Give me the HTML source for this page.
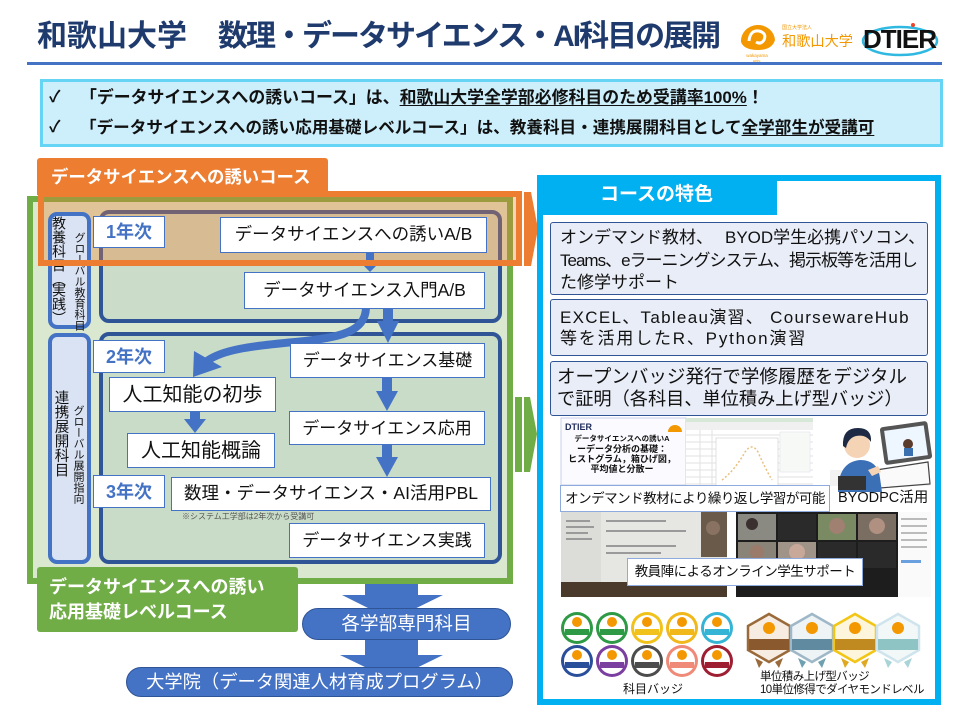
<!DOCTYPE html>
<html><head><meta charset="utf-8">
<style>
*{margin:0;padding:0;box-sizing:border-box}
html,body{width:960px;height:720px;overflow:hidden;background:#fff}
body{position:relative;font-family:"Liberation Sans","Noto Sans CJK JP",sans-serif;color:#111}
.a{position:absolute;white-space:nowrap}
.cb{position:absolute;background:#fff;border:1px solid #4472c4;display:flex;align-items:center;justify-content:center;white-space:nowrap;color:#111;line-height:1}
.yr{position:absolute;background:#fff;border:1px solid #4472c4;display:flex;align-items:center;justify-content:center;color:#4472c4;font-weight:bold;font-size:18px;line-height:1;width:72px}
.vt{position:absolute;writing-mode:vertical-rl;line-height:1;white-space:nowrap;color:#111}
.fb{position:absolute;left:550px;width:378px;background:#e9edf7;border:1px solid #2f5597;border-radius:3px}
.ft{position:absolute;left:560px;font-size:17px;white-space:nowrap;color:#111;line-height:1}
.u{text-decoration:underline;text-underline-offset:2px}
.cap{position:absolute;background:#fff;border:1px solid #8faadc;display:flex;align-items:center;justify-content:center;white-space:nowrap;color:#111;line-height:1}
</style></head><body>

<!-- Title -->
<div class="a" style="left:37px;top:18px;font-size:30px;font-weight:bold;color:#1f3b6e;line-height:38px">和歌山大学<span style="margin-left:31px;letter-spacing:-2px">数理・データサイエンス・AI科目の展開</span></div>

<!-- Logos -->
<svg class="a" style="left:730px;top:10px" width="230" height="52">
  <path d="M11,32 A17,16 0 1 1 45,30 Q42,40 28,40 Q14,40 11,32 Z" fill="#f39800"/>
  <path d="M19,31 Q20,20 29,21 Q37,23 34,30 Q31,35 26,32" stroke="#fff" stroke-width="3" fill="none"/>
  <text x="27" y="47" font-size="4.5" fill="#f39800" text-anchor="middle" font-family="Liberation Sans">wakayama</text>
  <text x="27" y="52" font-size="4" fill="#f39800" text-anchor="middle" font-family="Liberation Sans">univ.</text>
  <text x="52" y="19" font-size="5" fill="#f39800" font-family="Liberation Sans, Noto Sans CJK JP, sans-serif">国立大学法人</text>
  <text x="52" y="36" font-size="14.2" fill="#f39800" font-family="Liberation Sans, Noto Sans CJK JP, sans-serif">和歌山大学</text>
  <ellipse cx="170" cy="31" rx="37" ry="14" stroke="#2fb8e0" stroke-width="2.5" fill="none"/>
  <text x="133" y="38" font-size="26" font-weight="bold" fill="#111" letter-spacing="-1" font-family="Liberation Sans, sans-serif">DTIER</text>
  <circle cx="183" cy="15" r="2" fill="#e8452c"/>
</svg>

<!-- rule -->
<div class="a" style="left:27px;top:62px;width:915px;height:3px;background:#4472c4"></div>

<!-- Banner -->
<div class="a" style="left:40px;top:79px;width:903px;height:68px;border:3px solid #66d4f5;background:#cdeffc"></div>
<div class="a" style="left:49px;top:88px;font-size:16px;line-height:20px;font-weight:bold">✓</div>
<div class="a" style="left:80px;top:88px;font-size:16.9px;line-height:20px;font-weight:bold">「データサイエンスへの誘いコース」は、<span class="u">和歌山大学全学部必修科目のため受講率100%</span>！</div>
<div class="a" style="left:49px;top:118px;font-size:16px;line-height:20px;font-weight:bold">✓</div>
<div class="a" style="left:80px;top:118px;font-size:16.6px;line-height:20px;font-weight:bold">「データサイエンスへの誘い応用基礎レベルコース」は、教養科目・連携展開科目として<span class="u">全学部生が受講可</span></div>

<!-- Big arrows (behind) -->
<svg class="a" style="left:0;top:0" width="960" height="720">
  <g fill="#4472c4">
    <rect x="365" y="580" width="53" height="16"/>
    <polygon points="342,595 443,595 392,620"/>
    <rect x="365" y="638" width="53" height="18"/>
    <polygon points="340,655 443,655 392,680"/>
  </g>
</svg>

<!-- Left panel -->
<div class="a" style="left:27px;top:196px;width:486px;height:388px;border:6px solid #70ad47;background:#dae8cf"></div>
<div class="a" style="left:99px;top:210px;width:403px;height:113px;border:4px solid #2f5597;border-radius:10px;background:#cbdcc8"></div>
<div class="a" style="left:99px;top:332px;width:403px;height:232px;border:4px solid #2f5597;border-radius:10px;background:#c9dcc8"></div>
<!-- orange overlay fill -->
<div class="a" style="left:38px;top:191px;width:484px;height:75px;background:rgba(237,125,49,0.35)"></div>

<!-- Label boxes -->
<div class="a" style="left:48px;top:212px;width:43px;height:117px;border:4px solid #4472c4;border-radius:9px;background:#dae3f3"></div>
<div class="vt" style="left:52px;top:216px;font-size:14px">教養科目<span style="letter-spacing:-3px">（</span>実践<span style="letter-spacing:-3px">）</span></div>
<div class="vt" style="left:73px;top:232px;font-size:11px">グローバル教育科目</div>
<div class="a" style="left:48px;top:333px;width:43px;height:231px;border:4px solid #4472c4;border-radius:9px;background:#dae3f3"></div>
<div class="vt" style="left:53px;top:390px;font-size:14.5px">連携展開科目</div>
<div class="vt" style="left:72px;top:405px;font-size:11px">グローバル展開指向</div>

<!-- Year labels -->
<div class="yr" style="left:93px;top:216px;height:32px">1年次</div>
<div class="yr" style="left:93px;top:340px;height:33px">2年次</div>
<div class="yr" style="left:93px;top:475px;height:33px">3年次</div>

<!-- Arrows (small) -->
<svg class="a" style="left:0;top:0" width="960" height="720">
  <g fill="#4472c4">
    <rect x="366" y="253" width="8" height="10"/><polygon points="360,262 380,262 370,272"/>
    <rect x="383" y="309" width="10" height="13"/><polygon points="377,321 399,321 388,343"/>
    <rect x="382" y="378" width="10" height="14"/><polygon points="376,391 398,391 387,411"/>
    <rect x="382" y="445" width="10" height="13"/><polygon points="376,457 398,457 387,477"/>
    <rect x="190" y="412" width="10" height="8"/><polygon points="184,419 206,419 195,433"/>
    <polygon points="193,377 194,351 222,367"/>
  </g>
  <path d="M366,308 C365,332 340,338 295,342 C250,346 222,350 207,361" stroke="#4472c4" stroke-width="8" fill="none"/>
</svg>

<!-- Course boxes -->
<div class="cb" style="left:220px;top:217px;width:267px;height:36px;font-size:17.5px">データサイエンスへの誘いA/B</div>
<div class="cb" style="left:244px;top:272px;width:241px;height:37px;font-size:17.5px">データサイエンス入門A/B</div>
<div class="cb" style="left:290px;top:343px;width:195px;height:35px;font-size:17px">データサイエンス基礎</div>
<div class="cb" style="left:109px;top:377px;width:167px;height:35px;font-size:20px">人工知能の初歩</div>
<div class="cb" style="left:289px;top:411px;width:196px;height:34px;font-size:17px">データサイエンス応用</div>
<div class="cb" style="left:127px;top:433px;width:148px;height:35px;font-size:20px">人工知能概論</div>
<div class="cb" style="left:171px;top:477px;width:320px;height:34px;font-size:17.5px">数理・データサイエンス・AI活用PBL</div>
<div class="a" style="left:182px;top:512px;font-size:8px;color:#555;line-height:10px">※システム工学部は2年次から受講可</div>
<div class="cb" style="left:289px;top:523px;width:196px;height:35px;font-size:17px">データサイエンス実践</div>

<!-- Orange border on top -->
<div class="a" style="left:38px;top:191px;width:484px;height:75px;border:6px solid #ed7d31"></div>
<!-- Orange tab -->
<div class="a" style="left:37px;top:158px;width:291px;height:37px;background:#ed7d31;border-radius:3px 3px 0 0"></div>
<div class="a" style="left:51px;top:159px;line-height:37px;font-size:17.4px;font-weight:bold;color:#fff">データサイエンスへの誘いコース</div>

<!-- Chevrons -->
<svg class="a" style="left:0;top:0" width="960" height="720">
  <polygon points="524,192 531,192 538,229 531,266 524,266" fill="#ed7d31"/>
  <rect x="515" y="397" width="7" height="75" fill="#70ad47"/>
  <polygon points="524,397 530,397 537,434 530,472 524,472" fill="#70ad47"/>
</svg>

<!-- Green tab -->
<div class="a" style="left:37px;top:567px;width:261px;height:65px;background:#70ad47;border-radius:3px"></div>
<div class="a" style="left:49px;top:575px;font-size:18px;line-height:25px;font-weight:bold;color:#fff">データサイエンスへの誘い<br>応用基礎レベルコース</div>

<!-- Pills -->
<div class="a" style="left:302px;top:608px;width:209px;height:32px;border-radius:16px;background:#4472c4;border:1.5px solid #2f5597;color:#fff;font-size:18.6px;line-height:29px;text-align:center">各学部専門科目</div>
<div class="a" style="left:126px;top:667px;width:387px;height:30px;border-radius:15px;background:#4472c4;border:1.5px solid #2f5597;color:#fff;font-size:18.3px;line-height:27px;text-align:center">大学院（データ関連人材育成プログラム）</div>

<!-- Right panel -->
<div class="a" style="left:537px;top:175px;width:404px;height:530px;border:6px solid #00b0f0;background:#fff"></div>
<div class="a" style="left:537px;top:175px;width:240px;height:40px;background:#00b0f0"></div>
<div class="a" style="left:600px;top:175px;line-height:40px;font-size:19px;font-weight:bold;color:#fff">コースの特色</div>

<div class="fb" style="top:222px;height:73px"></div>
<div class="ft" style="top:229px">オンデマンド教材、<span style="margin-left:12px">BYOD学生必携パソコン、</span></div>
<div class="ft" style="top:252px;letter-spacing:-1px">Teams、eラーニングシステム、掲示板等を活用し</div>
<div class="ft" style="top:274px">た修学サポート</div>

<div class="fb" style="top:299px;height:57px"></div>
<div class="ft" style="top:309px;letter-spacing:1.3px">EXCEL、Tableau演習、 CoursewareHub</div>
<div class="ft" style="top:330px;letter-spacing:1.8px">等を活用したR、Python演習</div>

<div class="fb" style="top:361px;height:55px"></div>
<div class="ft" style="left:557px;top:368px;font-size:18.5px">オープンバッジ発行で学修履歴をデジタル</div>
<div class="ft" style="left:557px;top:390px;font-size:18.2px">で証明（各科目、単位積み上げ型バッジ）</div>

<!-- Images -->
<svg class="a" style="left:0;top:0" width="960" height="720">
  <!-- slide -->
  <rect x="561" y="418" width="125" height="67" fill="#fbfbff" stroke="#c9d0ea" stroke-width="1"/>
  <text x="565" y="430" font-size="9" font-weight="bold" fill="#1d2a5a" font-family="Liberation Sans, sans-serif">DTIER</text>
  <path d="M668,432 A7,7 0 0 1 682,432 Z" fill="#f39800"/>
  <g font-family="Liberation Sans, Noto Sans CJK JP, sans-serif" font-weight="bold" fill="#111" text-anchor="middle">
    <text x="622" y="441" font-size="7.5">データサイエンスへの誘いA</text>
    <text x="622" y="452" font-size="9">ーデータ分析の基礎：</text>
    <text x="622" y="462" font-size="9">ヒストグラム，箱ひげ図，</text>
    <text x="622" y="472" font-size="9">平均値と分散ー</text>
  </g>
  <!-- excel -->
  <rect x="686" y="418" width="127" height="72" fill="#fff"/>
  <rect x="686" y="418" width="127" height="4" fill="#d8e8d8"/>
  <rect x="686" y="422" width="127" height="8" fill="#f0f0f0"/>
  <g stroke="#e2e2e2" stroke-width="1">
    <line x1="686" y1="435" x2="813" y2="435"/><line x1="686" y1="442" x2="813" y2="442"/>
    <line x1="686" y1="449" x2="813" y2="449"/><line x1="686" y1="456" x2="813" y2="456"/>
    <line x1="686" y1="463" x2="813" y2="463"/><line x1="686" y1="470" x2="813" y2="470"/>
    <line x1="686" y1="477" x2="813" y2="477"/><line x1="686" y1="484" x2="813" y2="484"/>
    <line x1="700" y1="430" x2="700" y2="490"/><line x1="712" y1="430" x2="712" y2="490"/>
  </g>
  <rect x="716" y="438" width="62" height="48" fill="#fff" stroke="#ccc" stroke-width="0.6"/>
  <path d="M722,480 Q735,470 745,452 Q752,442 758,452 Q765,468 772,480" stroke="#e8c080" stroke-width="1.5" fill="none" stroke-dasharray="2,2"/>
  <rect x="780" y="432" width="30" height="40" fill="#f6f9f6" stroke="#dde" stroke-width="0.5"/>
  <!-- person -->
  <g>
    <rect x="830" y="470" width="100" height="16" fill="#f2f2f2"/>
    <path d="M876,470 L928,462 L930,484 L880,488 Z" fill="#fafafa" stroke="#444" stroke-width="1.2"/>
    <rect x="882" y="424" width="48" height="38" rx="3" fill="#555" transform="rotate(-8 906 443)"/>
    <rect x="886" y="428" width="40" height="30" fill="#eef6ff" transform="rotate(-8 906 443)"/>
    <circle cx="908" cy="444" r="5" fill="#5a3a2a"/>
    <rect x="904" y="448" width="9" height="8" fill="#3a6fb0"/>
    <path d="M838,492 Q838,462 860,460 Q878,460 880,478 L882,492 Z" fill="#3b6fb6"/>
    <circle cx="857" cy="445" r="13" fill="#f5d3b5"/>
    <path d="M843,446 Q842,428 858,428 Q872,428 871,442 Q866,434 856,436 Q848,438 846,448 Z" fill="#1e2a44"/>
    <rect x="838" y="476" width="28" height="14" fill="#333"/>
    <path d="M868,470 L878,466 L881,472 L872,476 Z" fill="#f5d3b5"/>
  </g>
  <!-- left photo -->
  <rect x="561" y="512" width="166" height="85" fill="#e6e6e3"/>
  <rect x="561" y="512" width="40" height="70" fill="#dcdcd8"/>
  <g fill="#9a9a9a">
    <rect x="566" y="520" width="24" height="2"/><rect x="566" y="526" width="28" height="2"/>
    <rect x="566" y="532" width="22" height="2"/><rect x="566" y="538" width="26" height="2"/>
    <rect x="606" y="520" width="60" height="2"/><rect x="606" y="530" width="80" height="2"/>
    <rect x="606" y="545" width="70" height="2"/><rect x="606" y="552" width="55" height="2"/>
  </g>
  <rect x="701" y="512" width="26" height="45" fill="#6a5a4a"/>
  <circle cx="713" cy="528" r="7" fill="#8a7262"/>
  <rect x="561" y="582" width="166" height="15" fill="#4a3a2c"/>
  <!-- zoom photo -->
  <rect x="736" y="512" width="162" height="85" fill="#1d1d1d"/>
  <rect x="738" y="514" width="38" height="26" fill="#8a8a82"/>
  <circle cx="752" cy="524" r="6" fill="#3a3030"/>
  <rect x="778" y="514" width="38" height="26" fill="#2a2a2a"/>
  <rect x="818" y="514" width="38" height="26" fill="#7a8a62"/>
  <circle cx="837" cy="526" r="8" fill="#a08070"/>
  <rect x="858" y="514" width="38" height="26" fill="#7a6e62"/>
  <circle cx="877" cy="526" r="8" fill="#b09080"/>
  <rect x="738" y="542" width="38" height="26" fill="#8a8478"/>
  <circle cx="757" cy="552" r="7" fill="#9a7a6a"/>
  <rect x="778" y="542" width="38" height="26" fill="#a09488"/>
  <circle cx="797" cy="552" r="8" fill="#c8a898"/>
  <rect x="818" y="542" width="38" height="26" fill="#2a2a2a"/>
  <rect x="858" y="542" width="38" height="26" fill="#2a2a2a"/>
  <rect x="898" y="512" width="33" height="85" fill="#fafafa"/>
  <g fill="#bbb">
    <rect x="901" y="518" width="26" height="2"/><rect x="901" y="525" width="26" height="2"/>
    <rect x="901" y="532" width="26" height="2"/><rect x="901" y="539" width="26" height="2"/>
    <rect x="901" y="546" width="26" height="2"/><rect x="901" y="560" width="20" height="3" fill="#6aa0e0"/>
  </g>
  <!-- circle badges -->
  <g>
    <g transform="translate(577,628)"><circle r="16" fill="#2e9a45"/><circle r="13" fill="#fff"/><circle cy="-6" r="5" fill="#f39800"/><rect x="-12" y="1" width="24" height="6" fill="#2e9a45"/></g>
    <g transform="translate(612,628)"><circle r="16" fill="#2e9a45"/><circle r="13" fill="#fff"/><circle cy="-6" r="5" fill="#f39800"/><rect x="-12" y="1" width="24" height="6" fill="#2e9a45"/></g>
    <g transform="translate(647,628)"><circle r="16" fill="#f1c21b"/><circle r="13" fill="#fff"/><circle cy="-6" r="5" fill="#f39800"/><rect x="-12" y="1" width="24" height="6" fill="#f1c21b"/></g>
    <g transform="translate(682,628)"><circle r="16" fill="#f1b81b"/><circle r="13" fill="#fff"/><circle cy="-6" r="5" fill="#f39800"/><rect x="-12" y="1" width="24" height="6" fill="#f1b81b"/></g>
    <g transform="translate(717,628)"><circle r="16" fill="#35b4d6"/><circle r="13" fill="#fff"/><circle cy="-6" r="5" fill="#f39800"/><rect x="-12" y="1" width="24" height="6" fill="#35b4d6"/></g>
    <g transform="translate(577,661)"><circle r="16" fill="#2a4f9a"/><circle r="13" fill="#fff"/><circle cy="-6" r="5" fill="#f39800"/><rect x="-12" y="1" width="24" height="6" fill="#2a4f9a"/></g>
    <g transform="translate(612,661)"><circle r="16" fill="#7b3fa0"/><circle r="13" fill="#fff"/><circle cy="-6" r="5" fill="#f39800"/><rect x="-12" y="1" width="24" height="6" fill="#7b3fa0"/></g>
    <g transform="translate(647,661)"><circle r="16" fill="#4c4c4c"/><circle r="13" fill="#fff"/><circle cy="-6" r="5" fill="#f39800"/><rect x="-12" y="1" width="24" height="6" fill="#4c4c4c"/></g>
    <g transform="translate(682,661)"><circle r="16" fill="#f08a78"/><circle r="13" fill="#fff"/><circle cy="-6" r="5" fill="#f39800"/><rect x="-12" y="1" width="24" height="6" fill="#f08a78"/></g>
    <g transform="translate(717,661)"><circle r="16" fill="#9e1e32"/><circle r="13" fill="#fff"/><circle cy="-6" r="5" fill="#f39800"/><rect x="-12" y="1" width="24" height="6" fill="#9e1e32"/></g>
  </g>
  <!-- hex badges -->
  <g>
    <g transform="translate(769,638)"><polygon points="0,-24 21,-12 21,12 0,24 -21,12 -21,-12" fill="#f6ece2" stroke="#9a6a3a" stroke-width="2.5"/><circle cy="-10" r="6" fill="#f39800"/><rect x="-20" y="1" width="40" height="11" fill="#8a5a2e"/><polygon points="-14,20 -6,24 -10,30" fill="#9a6a3a"/><polygon points="14,20 6,24 10,30" fill="#9a6a3a"/></g>
    <g transform="translate(812,638)"><polygon points="0,-24 21,-12 21,12 0,24 -21,12 -21,-12" fill="#eef3f6" stroke="#9fb8c8" stroke-width="2.5"/><circle cy="-10" r="6" fill="#f39800"/><rect x="-20" y="1" width="40" height="11" fill="#5f8aa0"/><polygon points="-14,20 -6,24 -10,30" fill="#6fa0b0"/><polygon points="14,20 6,24 10,30" fill="#6fa0b0"/></g>
    <g transform="translate(855,638)"><polygon points="0,-24 21,-12 21,12 0,24 -21,12 -21,-12" fill="#fdf6dc" stroke="#f3c515" stroke-width="2.5"/><circle cy="-10" r="6" fill="#f39800"/><rect x="-20" y="1" width="40" height="11" fill="#c08a20"/><polygon points="-14,20 -6,24 -10,30" fill="#e0a820"/><polygon points="14,20 6,24 10,30" fill="#e0a820"/></g>
    <g transform="translate(898,638)"><polygon points="0,-24 21,-12 21,12 0,24 -21,12 -21,-12" fill="#f2f8f8" stroke="#cfe4ec" stroke-width="2.5"/><circle cy="-10" r="6" fill="#f39800"/><rect x="-20" y="1" width="40" height="11" fill="#8fc4c4"/><polygon points="-14,20 -6,24 -10,30" fill="#a8d4d8"/><polygon points="14,20 6,24 10,30" fill="#a8d4d8"/></g>
  </g>
</svg>

<div class="cap" style="left:560px;top:485px;width:270px;height:27px;font-size:13.5px;letter-spacing:-0.5px">オンデマンド教材により繰り返し学習が可能</div>
<div class="a" style="left:838px;top:489px;font-size:14.5px;line-height:18px">BYODPC活用</div>
<div class="cap" style="left:627px;top:558px;width:236px;height:28px;font-size:13.5px;letter-spacing:-0.5px">教員陣によるオンライン学生サポート</div>
<div class="a" style="left:623px;top:682px;font-size:12px;line-height:14px">科目バッジ</div>
<div class="a" style="left:760px;top:671px;font-size:11.5px;line-height:13px;letter-spacing:-0.6px">単位積み上げ型バッジ<br>10単位修得でダイヤモンドレベル</div>

</body></html>
